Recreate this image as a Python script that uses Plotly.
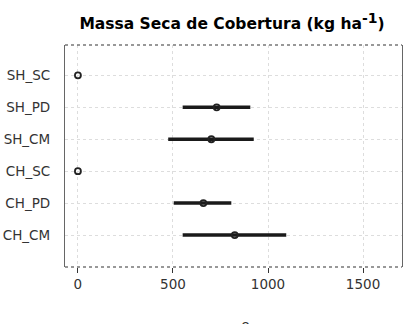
import plotly.graph_objects as go

categories = ["CH_CM", "CH_PD", "CH_SC", "SH_CM", "SH_PD", "SH_SC"]
means = [825, 660, 0, 702, 730, 0]
lower = [551, 504, 0, 475, 551, 0]
upper = [1096, 807, 0, 925, 907, 0]
x_ticks = [0, 500, 1000, 1500]
n_label = "n= 8"

err_plus = [u - m for u, m in zip(upper, means)]
err_minus = [m - l for m, l in zip(means, lower)]

fig = go.Figure()
fig.add_trace(go.Scatter(
    x=means, y=categories, mode="markers",
    marker=dict(symbol="circle-open", size=6, color="#222222", line=dict(width=1.8, color="#222222")),
    error_x=dict(type="data", symmetric=False, array=err_plus, arrayminus=err_minus,
                 color="#1a1a1a", thickness=3.5, width=0),
    showlegend=False,
))

font_family = "DejaVu Sans, sans-serif"
fig.update_layout(
    width=403, height=324,
    margin=dict(l=65, r=1, t=45, b=57),
    paper_bgcolor="white", plot_bgcolor="white",
    title=dict(text="<b>Massa Seca de Cobertura (kg ha<sup><span style='font-size:14px'>-1</span></sup>)</b>",
               x=(77 + 387) / 2 / 403, xanchor="center", y=1 - 24 / 324, yanchor="middle",
               font=dict(family=font_family, size=15.5, color="black")),
    xaxis=dict(range=[-68, 1705], tickvals=x_ticks, ticks="outside", ticklen=5, tickcolor="#333",
               showgrid=True, gridcolor="#dddddd", griddash="dot", gridwidth=1,
               zeroline=False, showline=False,
               tickfont=dict(family=font_family, size=13.5, color="#333333")),
    yaxis=dict(categoryorder="array", categoryarray=categories, range=[-1, 5.95],
               showgrid=True, gridcolor="#dddddd", griddash="dot", gridwidth=1,
               zeroline=False, showline=True, mirror=True, linecolor="#666666", linewidth=1.2,
               ticks="", ticklabelstandoff=11,
               tickfont=dict(family=font_family, size=13.5, color="#333333")),
    shapes=[
        dict(type="line", xref="paper", yref="paper", x0=0, x1=1, y0=1, y1=1,
             line=dict(color="#333333", width=1.2, dash="dot")),
        dict(type="line", xref="paper", yref="paper", x0=0, x1=1, y0=0, y1=0,
             line=dict(color="#333333", width=1.2, dash="dot")),
    ],
    annotations=[dict(text=n_label, xref="paper", yref="paper", x=(233 - 65) / 337,
                      y=-(317 - 267) / 222, xanchor="center", yanchor="top", showarrow=False,
                      font=dict(family=font_family, size=13.5, color="#333333"))],
)
fig.write_html("out.html", config={"displayModeBar": False},
               post_script="document.body.style.margin='0';document.body.style.overflow='hidden';")
